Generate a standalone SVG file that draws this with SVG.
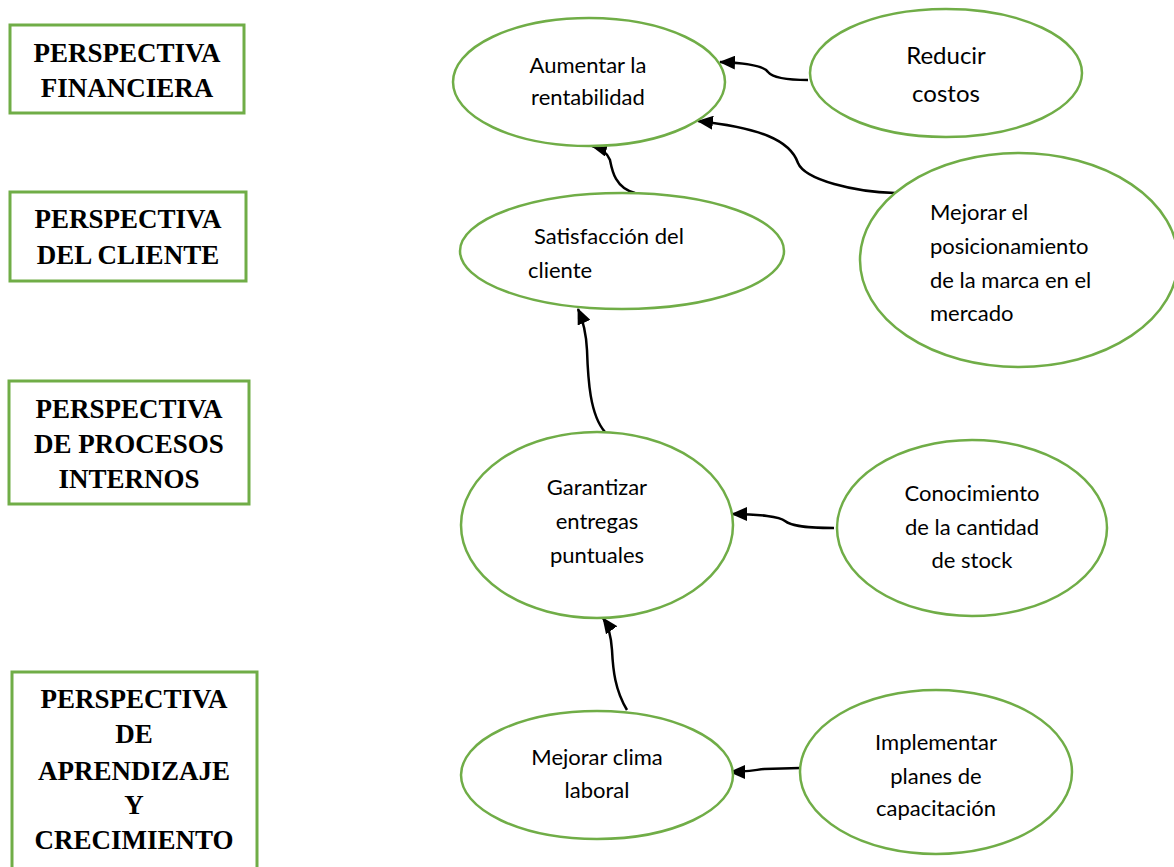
<svg xmlns="http://www.w3.org/2000/svg" width="1174" height="867" viewBox="0 0 1174 867">
<style>
.box{fill:#fff;stroke:#70AD47;stroke-width:3}
.ell{fill:#fff;stroke:#70AD47;stroke-width:2.5}
.bt{font-family:"Liberation Serif","Times New Roman",serif;font-weight:bold;font-size:27px;fill:#000;text-anchor:middle}
.et{font-family:Lato,"Open Sans",sans-serif;font-size:22px;fill:#000}
.c{text-anchor:middle}
.con{fill:none;stroke:#000;stroke-width:2.5}
</style>
<defs>
<marker id="ah" markerUnits="userSpaceOnUse" markerWidth="16" markerHeight="14" refX="15" refY="7" orient="auto">
<path d="M0,0 L16,7 L0,14 z" fill="#000"/>
</marker>
</defs>
<rect width="1174" height="867" fill="#fff"/>

<g id="p-financiera">
<rect class="box" x="10" y="25" width="234" height="88"/>
<text class="bt" x="127" y="62">PERSPECTIVA</text>
<text class="bt" x="127" y="97">FINANCIERA</text>
</g>
<g id="p-cliente">
<rect class="box" x="10" y="192" width="236" height="89"/>
<text class="bt" x="128" y="228">PERSPECTIVA</text>
<text class="bt" x="128" y="264">DEL CLIENTE</text>
</g>
<g id="p-procesos">
<rect class="box" x="9" y="381" width="240" height="123"/>
<text class="bt" x="129" y="418">PERSPECTIVA</text>
<text class="bt" x="129" y="453">DE PROCESOS</text>
<text class="bt" x="129" y="488">INTERNOS</text>
</g>
<g id="p-aprendizaje">
<rect class="box" x="12" y="672" width="245" height="210"/>
<text class="bt" x="134" y="708">PERSPECTIVA</text>
<text class="bt" x="134" y="743">DE</text>
<text class="bt" x="134" y="780">APRENDIZAJE</text>
<text class="bt" x="134" y="814">Y</text>
<text class="bt" x="134" y="849">CRECIMIENTO</text>
</g>

<g id="connectors">
<path class="con" marker-end="url(#ah)" d="M808,80 C785,80 772,77 768,72 C764,66 748,63 720,62"/>
<path class="con" marker-end="url(#ah)" d="M895,193 C855,192 805,180 798,163 C790,140 760,128 698,121"/>
<path class="con" marker-end="url(#ah)" d="M635,193 C615,188 612,170 610,160 C607,152 600,148 592,146"/>
<path class="con" marker-end="url(#ah)" d="M605,432 C590,415 588,380 587,350 C586,330 582,318 578,309"/>
<path class="con" marker-end="url(#ah)" d="M627,710 C615,690 613,670 612,650 C611,635 608,625 603,618"/>
<path class="con" marker-end="url(#ah)" d="M834,528 C800,528 790,525 785,521 C780,517 760,514 732,514"/>
<path class="con" marker-end="url(#ah)" d="M800,768 L764,769 C755,770 745,772 730,772"/>
</g>

<g id="n-aumentar">
<ellipse class="ell" cx="589" cy="82" rx="136" ry="64"/>
<text class="et c" x="588" y="73">Aumentar la</text>
<text class="et c" x="588" y="105">rentabilidad</text>
</g>
<g id="n-reducir">
<ellipse class="ell" cx="946" cy="73" rx="136" ry="64"/>
<text class="et c" x="946" y="64" style="font-size:24px">Reducir</text>
<text class="et c" x="946" y="102" style="font-size:24px">costos</text>
</g>
<g id="n-satisfaccion">
<ellipse class="ell" cx="622" cy="251" rx="162" ry="58"/>
<text class="et" x="534" y="244">Satisfacción del</text>
<text class="et" x="528" y="278">cliente</text>
</g>
<g id="n-posicionamiento">
<ellipse class="ell" cx="1019" cy="260" rx="159" ry="107"/>
<text class="et" x="930" y="220">Mejorar el</text>
<text class="et" x="930" y="254">posicionamiento</text>
<text class="et" x="930" y="288">de la marca en el</text>
<text class="et" x="930" y="321">mercado</text>
</g>
<g id="n-garantizar">
<ellipse class="ell" cx="597" cy="525" rx="136" ry="93"/>
<text class="et c" x="597" y="495">Garantizar</text>
<text class="et c" x="597" y="529">entregas</text>
<text class="et c" x="597" y="563">puntuales</text>
</g>
<g id="n-conocimiento">
<ellipse class="ell" cx="972" cy="528" rx="135" ry="88"/>
<text class="et c" x="972" y="501">Conocimiento</text>
<text class="et c" x="972" y="535">de la cantidad</text>
<text class="et c" x="972" y="568">de stock</text>
</g>
<g id="n-clima">
<ellipse class="ell" cx="597" cy="775" rx="136" ry="64"/>
<text class="et c" x="597" y="765">Mejorar clima</text>
<text class="et c" x="597" y="798">laboral</text>
</g>
<g id="n-capacitacion">
<ellipse class="ell" cx="936" cy="772" rx="136" ry="82"/>
<text class="et c" x="936" y="750">Implementar</text>
<text class="et c" x="936" y="784">planes de</text>
<text class="et c" x="936" y="816">capacitación</text>
</g>
</svg>
